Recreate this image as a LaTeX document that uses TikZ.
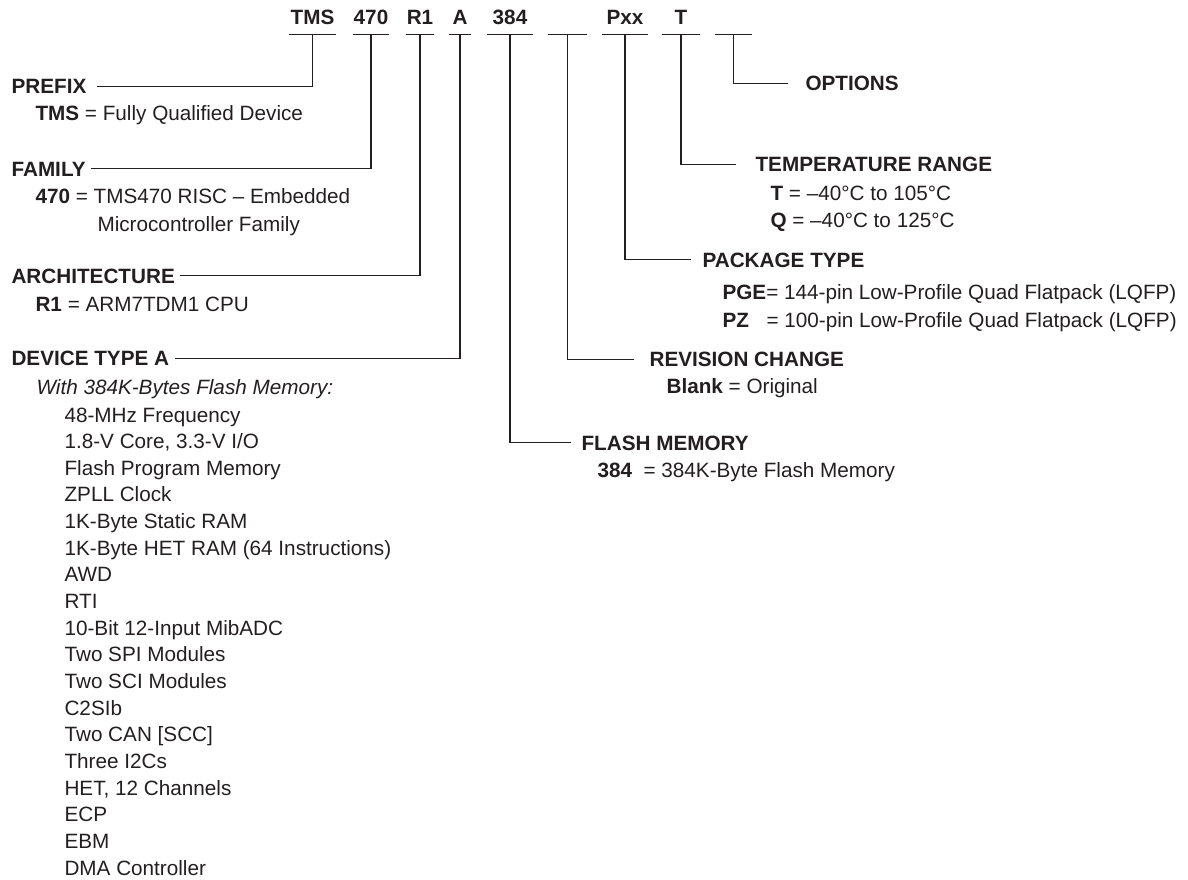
\documentclass[tikz,border=0pt]{standalone}
\usepackage{fontspec}
\setmainfont{Liberation Sans}
\definecolor{ink}{RGB}{35,31,32}
\newcommand\txtsize{\fontsize{20.7pt}{26.6pt}\selectfont}
\tikzset{every picture/.style = {x=1pt, y=-1pt, line width=1.1pt, color=ink, font=\txtsize}}
\tikzset{code/.style = {font=\txtsize\bfseries, anchor=base, text height=15pt, text depth=0pt,
  inner xsep=0pt, inner ysep=9pt}}
\tikzset{head/.style = {font=\txtsize\bfseries, anchor=base west, text height=14.8pt,
  text depth=0pt, inner sep=0pt}}
\tikzset{desc/.style = {anchor=base west, inner sep=0pt}}

\begin{document}
\begin{tikzpicture}
  \useasboundingbox (0, 0) rectangle (1188, 880);
  \node(ctms)[code, minimum width=45]  at (312.5, 25) {TMS};
  \node(c470)[code, minimum width=34]  at (371, 25)   {470};
  \node(cr1)[code, minimum width=24]   at (420, 25)   {R1};
  \node(ca)[code, minimum width=20]    at (460, 25)   {A};
  \node(c384)[code, minimum width=45]  at (510, 25)   {384};
  \node(crev)[code, minimum width=37]  at (567.5, 25) {};
  \node(cpkg)[code, minimum width=44]  at (625, 25)   {Pxx};
  \node(ctemp)[code, minimum width=36] at (681, 25)   {T};
  \node(copt)[code, minimum width=35]  at (733.5, 25) {};
  \foreach \c in {ctms, c470, cr1, ca, c384, crev, cpkg, ctemp, copt}
    \draw (\c.south west) -- (\c.south east);

  \node(prefix)[head] at (11, 94) {PREFIX};
  \node(dprefix)[desc] at (35, 121) {\textbf{TMS} = Fully Qualified Device};
  \node(family)[head] at (11, 176) {FAMILY};
  \node(dfamily)[desc] at (35, 203) {\textbf{470} = TMS470 RISC – Embedded};
  \node(dfamily2)[desc] at (97, 231) {Microcontroller Family};
  \node(arch)[head] at (11, 283) {ARCHITECTURE};
  \node(darch)[desc] at (35, 311) {\textbf{R1} = ARM7TDM1 CPU};
  \node(devtype)[head] at (11, 365.7) {DEVICE TYPE A};
  \node(dwith)[desc] at (36, 394) {\itshape With 384K-Bytes Flash Memory:};
  \foreach \t [count=\i] in {48-MHz Frequency, {1.8-V Core, 3.3-V I/O},
      Flash Program Memory, ZPLL Clock, 1K-Byte Static RAM,
      1K-Byte HET RAM (64 Instructions), AWD, RTI, 10-Bit 12-Input MibADC,
      Two SPI Modules, Two SCI Modules, C2SIb, Two CAN [SCC], Three I2Cs,
      {HET, 12 Channels}, ECP, EBM, DMA Controller}
    \node(dev\i)[desc] at (64, 422 + 26.65*\i - 26.65) {\t};

  \node(options)[head] at (805, 90.7) {OPTIONS};
  \node(temp)[head] at (755, 171.7) {TEMPERATURE RANGE};
  \node(dtemp1)[desc] at (770, 200) {\textbf{T} = –40°C to 105°C};
  \node(dtemp2)[desc] at (770, 227.3) {\textbf{Q} = –40°C to 125°C};
  \node(package)[head] at (702, 267.3) {PACKAGE TYPE};
  \node(dpkg1)[desc] at (722, 299.3) {\textbf{PGE}= 144-pin Low-Profile Quad Flatpack (LQFP)};
  \node(dpkg2)[desc] at (722, 327.3) {\makebox[44pt][l]{\textbf{PZ}}= 100-pin Low-Profile Quad Flatpack (LQFP)};
  \node(revision)[head] at (649, 366.7) {REVISION CHANGE};
  \node(drev)[desc] at (666, 393.3) {\textbf{Blank} = Original};
  \node(flash)[head] at (581, 450) {FLASH MEMORY};
  \node(dflash)[desc] at (597, 477) {\textbf{384}\ \ = 384K-Byte Flash Memory};

  \draw (ctms.south) |- ([xshift=10]prefix.east);
  \draw (c470.south) |- ([xshift=5]family.east);
  \draw (cr1.south) |- ([xshift=5]arch.east);
  \draw (ca.south) |- ([xshift=5]devtype.east);
  \draw (c384.south) |- ([xshift=-10]flash.west);
  \draw (crev.south) |- ([xshift=-15]revision.west);
  \draw (cpkg.south) |- ([xshift=-11]package.west);
  \draw (ctemp.south) |- ([xshift=-19]temp.west);
  \draw (copt.south) |- ([xshift=-17]options.west);
\end{tikzpicture}
\end{document}
